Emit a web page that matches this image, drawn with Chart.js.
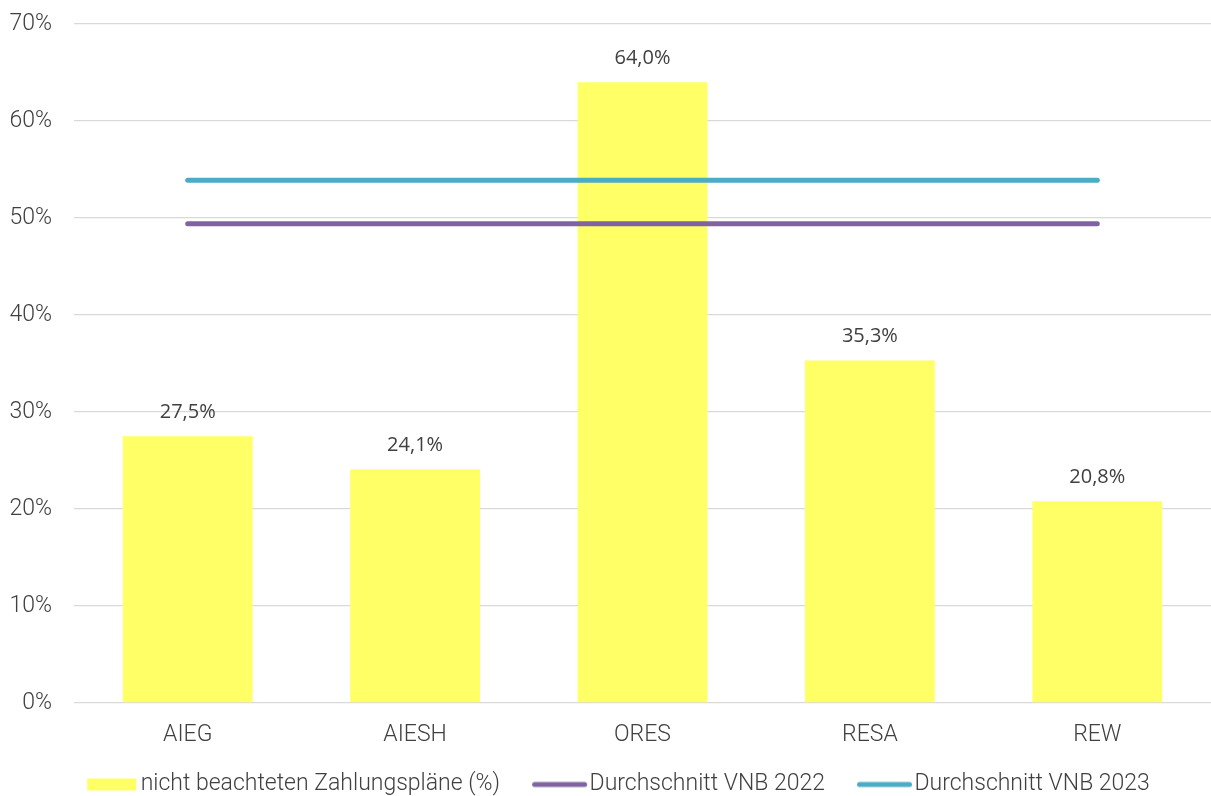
<!DOCTYPE html>
<html>
<head>
<meta charset="utf-8">
<script src="https://cdn.jsdelivr.net/npm/chart.js@4.4.1/dist/chart.umd.min.js"></script>
<style>
  html, body { margin: 0; padding: 0; background: #ffffff; }
  #wrap { width: 1211px; height: 796px; position: relative; }
</style>
</head>
<body>
<div id="wrap"><canvas id="chart"></canvas></div>
<script>
// Network operators and their share of unobserved payment plans (%)
const categories = ['AIEG', 'AIESH', 'ORES', 'RESA', 'REW'];
const shareMissed = [27.5, 24.1, 64.0, 35.3, 20.8];
const avg2022 = [49.4, 49.4, 49.4, 49.4, 49.4];
const avg2023 = [53.9, 53.9, 53.9, 53.9, 53.9];
const seriesNames = ['nicht beachteten Zahlungspläne (%)', 'Durchschnitt VNB 2022', 'Durchschnitt VNB 2023'];
const yTicks = [0, 10, 20, 30, 40, 50, 60, 70];

const YELLOW = '#FFFF66';
const PURPLE = '#8064A2';
const TEAL = '#4BACC6';
const TEXT = '#404040';
const FONT = { family: 'Roboto', size: 23, weight: 300 };

// Legend swatches: transparent canvases with the visible mark on their right side
const ICON_W = 96;
function swatchRect(color) {
  const c = document.createElement('canvas');
  c.width = ICON_W; c.height = 14;
  const g = c.getContext('2d');
  g.fillStyle = color;
  g.fillRect(40, 1, 49, 12);
  return c;
}
function swatchLine(color) {
  const c = document.createElement('canvas');
  c.width = ICON_W; c.height = 8;
  const g = c.getContext('2d');
  g.strokeStyle = color;
  g.lineWidth = 5;
  g.lineCap = 'round';
  g.beginPath();
  g.moveTo(38.5, 4);
  g.lineTo(88.5, 4);
  g.stroke();
  return c;
}
const legendIcons = [swatchRect(YELLOW), swatchLine(PURPLE), swatchLine(TEAL)];

const fmt = v => v.toFixed(1).replace('.', ',') + '%';

// Value labels above the bars
const barLabels = {
  id: 'barLabels',
  afterDatasetsDraw(chart) {
    const ctx = chart.ctx;
    const meta = chart.getDatasetMeta(0);
    ctx.save();
    ctx.font = '20px "Open Sans", sans-serif';
    ctx.fillStyle = TEXT;
    ctx.textAlign = 'center';
    ctx.textBaseline = 'middle';
    meta.data.forEach((bar, i) => {
      ctx.fillText(fmt(shareMissed[i]), bar.x, bar.y - 24);
    });
    ctx.restore();
  }
};

new Chart(document.getElementById('chart'), {
  data: {
    labels: categories,
    datasets: [
      {
        type: 'bar',
        label: seriesNames[0],
        data: shareMissed,
        backgroundColor: YELLOW,
        categoryPercentage: 1.0,
        barPercentage: 0.571,
        order: 2
      },
      {
        type: 'line',
        label: seriesNames[1],
        data: avg2022,
        borderColor: PURPLE,
        backgroundColor: PURPLE,
        borderWidth: 5,
        borderCapStyle: 'round',
        pointRadius: 0,
        order: 1
      },
      {
        type: 'line',
        label: seriesNames[2],
        data: avg2023,
        borderColor: TEAL,
        backgroundColor: TEAL,
        borderWidth: 5,
        borderCapStyle: 'round',
        pointRadius: 0,
        order: 1
      }
    ]
  },
  options: {
    responsive: true,
    maintainAspectRatio: false,
    animation: false,
    layout: { padding: { top: 24, right: 0, bottom: -10, left: 0 } },
    plugins: {
      tooltip: { enabled: false },
      legend: {
        position: 'bottom',
        labels: {
          usePointStyle: true,
          pointStyleWidth: 68,
          boxHeight: 12,
          padding: 10,
          color: TEXT,
          font: FONT,
          generateLabels(chart) {
            return chart.data.datasets.map((ds, i) => ({
              text: ds.label,
              datasetIndex: i,
              pointStyle: legendIcons[i],
              fillStyle: ds.backgroundColor,
              strokeStyle: ds.borderColor,
              lineWidth: 0,
              hidden: false,
              fontColor: TEXT
            }));
          }
        }
      }
    },
    scales: {
      x: {
        offset: true,
        grid: { display: false, drawTicks: false },
        border: { display: false },
        ticks: { color: TEXT, padding: 18, font: FONT },
        afterFit(scale) { scale.height = 60; }
      },
      y: {
        min: 0,
        max: 70,
        afterBuildTicks(scale) { scale.ticks = yTicks.map(v => ({ value: v })); },
        grid: { color: '#D9D9D9', lineWidth: 1.3, drawTicks: false },
        border: { display: false },
        ticks: {
          color: TEXT,
          padding: 22,
          font: FONT,
          callback: v => v + '%'
        },
        afterFit(scale) {
          scale.width = 74;
          scale.paddingTop = 0;
          scale.paddingBottom = 0;
        }
      }
    }
  },
  plugins: [barLabels]
});
</script>
</body>
</html>
